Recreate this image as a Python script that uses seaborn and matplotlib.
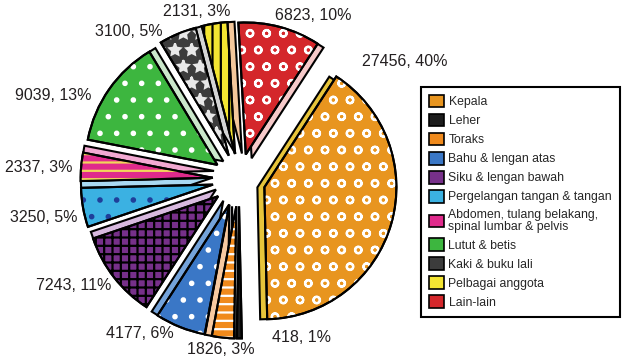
import numpy as np
import matplotlib
matplotlib.use("Agg")
import matplotlib.pyplot as plt
from matplotlib.patches import Wedge, Patch
import seaborn as sns

# data (clockwise from the top-right)
categories = [
    "Kepala", "Leher", "Toraks", "Bahu & lengan atas", "Siku & lengan bawah",
    "Pergelangan tangan & tangan", "Abdomen, tulang belakang,\nspinal lumbar & pelvis",
    "Lutut & betis", "Kaki & buku lali", "Pelbagai anggota", "Lain-lain",
]
counts = [27456, 418, 1826, 4177, 7243, 3250, 2337, 9039, 3100, 2131, 6823]

# styles
face_hex = ["#E8951F", "#1C1C1C", "#F08A1C", "#3A77C6", "#77308A", "#3BB1E2",
            "#E02A8C", "#3DB63F", "#3C3C3C", "#F4E532", "#D4272B"]
side_hex = ["#E7C43A", "#CFCFCF", "#F7C9A0", "#74A3DA", "#D8B9DF", "#A9DAF2",
            "#F2A9D2", "#CBE8CB", "#D4D4D4", "#F3C79B", "#F6C9C9"]
hatches = ["o", None, "--", ".", "++", ".", "--", ".", "*", "||", "o"]
hatch_cols = ["white", "black", "white", "white", "black", "#1F3F9A",
              "#F1D65A", "white", "#E8E8E8", "black", "white"]
explode = [0.2] * len(counts)
# label centres in pixels (x, y from top)
label_px = [(405, 61), (301, 338), (221, 350), (140, 333), (74, 285), (44, 218),
            (39, 168), (53, 95), (129, 32), (197, 12), (313, 15)]

W, H = 631, 359
CX, CY, R = 239, 180, 132  # pie centre and radius in pixels

sns.set_theme(style="white")
plt.rcParams["font.family"] = ["Liberation Sans", "DejaVu Sans"]
plt.rcParams["hatch.linewidth"] = 1.6

colors = sns.color_palette(face_hex)
total = sum(counts)

fig = plt.figure(figsize=(W / 100, H / 100), dpi=100)
ax = fig.add_axes([0, 0, 1, 1])

wedges, _ = ax.pie(counts, colors=colors, startangle=57, counterclock=False,
                   explode=explode, radius=1,
                   wedgeprops=dict(edgecolor="black", linewidth=1.5))

# pseudo-3D side face, hatch texture and outline for each slice
d = 7 / R
for w, side, h, hc in zip(wedges, side_hex, hatches, hatch_cols):
    cx, cy = w.center
    a = np.deg2rad(w.theta1 - 90)
    sh = Wedge((cx + d * np.cos(a), cy + d * np.sin(a)), w.r, w.theta1, w.theta2,
               facecolor=side, edgecolor="black", linewidth=1.5, zorder=0.5)
    ax.add_patch(sh)
    if h:
        ax.add_patch(Wedge(w.center, w.r, w.theta1, w.theta2, facecolor="none",
                           edgecolor=hc, linewidth=0, hatch=h, zorder=1.5))
    ax.add_patch(Wedge(w.center, w.r, w.theta1, w.theta2, fill=False,
                       edgecolor="black", linewidth=1.5, zorder=2))

for v, (px, py) in zip(counts, label_px):
    ax.text((px - CX) / R, (CY - py) / R, f"{v}, {round(v / total * 100)}%",
            ha="center", va="center", fontsize=11.5, color="#231F20")

ax.set_xlim(-CX / R, (W - CX) / R)
ax.set_ylim((CY - H) / R, CY / R)
ax.set_aspect("equal")
ax.set_axis_off()

handles = [Patch(facecolor=c, edgecolor="black", linewidth=1.2) for c in colors]
leg = fig.legend(handles, categories, loc="upper left",
                 bbox_to_anchor=(421 / W, 1 - 87 / H), bbox_transform=fig.transFigure,
                 fontsize=8.8, frameon=True, fancybox=False, framealpha=1,
                 edgecolor="black", handlelength=1.2, handleheight=1.2,
                 handletextpad=0.4, labelspacing=0.46, borderpad=0.65,
                 borderaxespad=0)
leg.get_frame().set_linewidth(1.5)
for t in leg.get_texts():
    t.set_linespacing(0.95)

fig.savefig("out.png", dpi=100)
